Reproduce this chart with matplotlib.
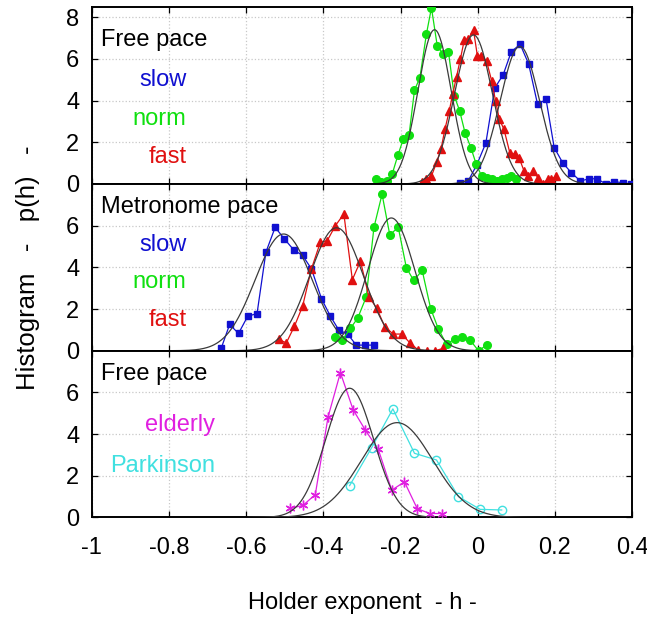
import numpy as np
import matplotlib
matplotlib.use('Agg')
import matplotlib.pyplot as plt

plt.rcParams['font.family'] = ['Liberation Sans', 'DejaVu Sans']

# Free pace (young): slow / norm / fast
fp_slow_h = [-0.047, -0.025, -0.003, 0.021, 0.044, 0.066, 0.087, 0.110, 0.132, 0.155, 0.177,
             0.198, 0.220, 0.242, 0.266, 0.288, 0.309, 0.332, 0.354, 0.376, 0.397]
fp_slow_p = [0.05, 0.14, 0.9, 1.97, 4.6, 5.25, 6.35, 6.7, 5.75, 3.82, 4.06,
             1.75, 1.02, 0.55, 0.14, 0.25, 0.25, 0.0, 0.11, 0.06, 0.0]
fp_norm_h = [-0.265, -0.250, -0.236, -0.222, -0.207, -0.193, -0.178, -0.164, -0.150, -0.133,
             -0.120, -0.105, -0.090, -0.076, -0.061, -0.047, -0.033, -0.018, -0.004, 0.010,
             0.024, 0.038, 0.051, 0.064, 0.075, 0.086, 0.099]
fp_norm_p = [0.25, 0.1, 0.14, 0.46, 1.38, 2.15, 2.35, 4.5, 5.1, 7.2,
             8.45, 6.63, 6.23, 6.35, 4.23, 3.51, 2.46, 1.75, 0.95, 0.38,
             0.3, 0.22, 0.14, 0.22, 0.3, 0.38, 0.25]
fp_fast_h = [-0.145, -0.133, -0.120, -0.106, -0.095, -0.085, -0.074, -0.065, -0.055, -0.045,
             -0.035, -0.025, -0.011, -0.001, 0.009, 0.023, 0.036, 0.046, 0.056, 0.068,
             0.083, 0.096, 0.107, 0.120, 0.131, 0.144, 0.156, 0.168, 0.181, 0.191, 0.203]
fp_fast_p = [0.1, 0.22, 0.38, 1.07, 1.7, 2.63, 3.5, 4.3, 5.15, 6.0,
             6.9, 6.95, 7.38, 6.15, 6.15, 5.88, 4.95, 4.0, 3.1, 2.62,
             1.5, 1.42, 1.26, 0.62, 0.38, 0.62, 0.3, 0.0, 0.22, 0.22, 0.38]

# Metronome pace: slow / norm / fast
mp_slow_h = [-0.665, -0.643, -0.620, -0.596, -0.572, -0.549, -0.525, -0.501, -0.477,
             -0.454, -0.431, -0.405, -0.382, -0.360, -0.337, -0.315, -0.293, -0.270]
mp_slow_p = [0.11, 1.26, 0.83, 1.66, 1.78, 4.73, 5.92, 5.36, 4.84,
             4.57, 3.93, 2.5, 1.66, 0.99, 0.80, 0.27, 0.27, 0.27]
mp_norm_h = [-0.371, -0.351, -0.330, -0.311, -0.289, -0.269, -0.248, -0.228, -0.206, -0.185,
             -0.166, -0.144, -0.122, -0.102, -0.081, -0.060, -0.040, -0.020, 0.002, 0.023]
mp_norm_p = [0.64, 0.51, 1.07, 1.57, 2.58, 5.92, 7.51, 5.56, 5.92, 3.98,
             3.37, 3.85, 2.02, 1.04, 0.31, 0.56, 0.67, 0.51, 0.0, 0.27]
mp_fast_h = [-0.516, -0.496, -0.475, -0.454, -0.431, -0.408, -0.390, -0.369, -0.347, -0.325,
             -0.304, -0.282, -0.262, -0.241, -0.219, -0.197, -0.176, -0.154, -0.132, -0.111, -0.090]
mp_fast_p = [0.54, 0.38, 1.18, 2.13, 3.93, 5.2, 5.28, 6.0, 6.56, 3.41,
             4.3, 2.58, 2.05, 1.15, 0.8, 0.8, 0.38, 0.03, 0.0, 0.0, 0.11]

# Free pace: elderly / Parkinson
el_h = [-0.486, -0.453, -0.421, -0.388, -0.356, -0.323, -0.291, -0.258, -0.223, -0.190,
        -0.157, -0.125, -0.092]
el_p = [0.44, 0.58, 1.1, 4.82, 6.95, 5.17, 4.18, 3.28, 1.31, 1.71, 0.43, 0.19, 0.19]
pk_h = [-0.332, -0.275, -0.220, -0.164, -0.107, -0.050, 0.006, 0.062]
pk_p = [1.53, 3.35, 5.21, 3.08, 2.76, 1.0, 0.39, 0.36]

# gaussian fits: (mean, sigma, peak height)
fits_top = [(0.109, 0.051, 6.6), (-0.112, 0.043, 7.4), (-0.011, 0.049, 7.15)]
fits_mid = [(-0.503, 0.074, 5.6), (-0.224, 0.061, 6.37), (-0.366, 0.070, 5.9)]
fits_bot = [(-0.332, 0.062, 6.2), (-0.209, 0.092, 4.55)]

x_ticks = [-1, -0.8, -0.6, -0.4, -0.2, 0, 0.2, 0.4]
x_ticklabels = ['-1', '-0.8', '-0.6', '-0.4', '-0.2', '0', '0.2', '0.4']

BLUE = '#1010d0'
GREEN = '#10e010'
RED = '#e01010'
MAGENTA = '#e020e0'
CYAN = '#40e0e0'
FITC = '#3a3a3a'
FS = 17


def draw_fit(ax, mu, sig, amp):
    xs = np.linspace(mu - 4.2 * sig, mu + 4.2 * sig, 200)
    ax.plot(xs, amp * np.exp(-0.5 * ((xs - mu) / sig) ** 2), color=FITC, lw=0.9, zorder=4)


fig = plt.figure(figsize=(6.47, 6.19), dpi=100)
gs = fig.add_gridspec(3, 1, height_ratios=[8.5, 8, 8], hspace=0,
                      left=0.142, right=0.977, top=0.989, bottom=0.164)
axes = [fig.add_subplot(gs[i]) for i in range(3)]

for i, ax in enumerate(axes):
    ax.set_xlim(-1, 0.4)
    ax.set_xticks(x_ticks)
    ax.grid(True, color='#c8c8c8', linestyle=':', linewidth=0.9)
    ax.tick_params(direction='in', length=4, width=0.9, top=True, right=True,
                   labelsize=17, pad=9)
    ax.tick_params(axis='x', pad=14)
    for s in ax.spines.values():
        s.set_linewidth(1.4)
    if i < 2:
        ax.tick_params(labelbottom=False)
    else:
        ax.set_xticklabels(x_ticklabels)

ax = axes[0]
ax.set_ylim(0, 8.5)
ax.set_yticks([0, 2, 4, 6, 8])
ax.plot(fp_slow_h, fp_slow_p, color=BLUE, lw=0.9, marker='s', ms=5, zorder=3)
ax.plot(fp_norm_h, fp_norm_p, color=GREEN, lw=0.9, marker='o', ms=5.5, zorder=3)
ax.plot(fp_fast_h, fp_fast_p, color=RED, lw=0.9, marker='^', ms=5.5, zorder=3)
for f in fits_top:
    draw_fit(ax, *f)
ax.text(0.017, 0.81, 'Free pace', transform=ax.transAxes, fontsize=FS, va='center')
ax.text(0.175, 0.587, 'slow', transform=ax.transAxes, fontsize=FS, va='center', ha='right', color=BLUE)
ax.text(0.175, 0.369, 'norm', transform=ax.transAxes, fontsize=FS, va='center', ha='right', color=GREEN)
ax.text(0.175, 0.155, 'fast', transform=ax.transAxes, fontsize=FS, va='center', ha='right', color=RED)

ax = axes[1]
ax.set_ylim(0, 8)
ax.set_yticks([0, 2, 4, 6])
ax.plot(mp_slow_h, mp_slow_p, color=BLUE, lw=0.9, marker='s', ms=5, zorder=3)
ax.plot(mp_norm_h, mp_norm_p, color=GREEN, lw=0.9, marker='o', ms=5.5, zorder=3)
ax.plot(mp_fast_h, mp_fast_p, color=RED, lw=0.9, marker='^', ms=5.5, zorder=3)
for f in fits_mid:
    draw_fit(ax, *f)
ax.text(0.017, 0.86, 'Metronome pace', transform=ax.transAxes, fontsize=FS, va='center')
ax.text(0.175, 0.634, 'slow', transform=ax.transAxes, fontsize=FS, va='center', ha='right', color=BLUE)
ax.text(0.175, 0.414, 'norm', transform=ax.transAxes, fontsize=FS, va='center', ha='right', color=GREEN)
ax.text(0.175, 0.184, 'fast', transform=ax.transAxes, fontsize=FS, va='center', ha='right', color=RED)

ax = axes[2]
ax.set_ylim(0, 8)
ax.set_yticks([0, 2, 4, 6])
ax.plot(el_h, el_p, color=MAGENTA, lw=0.9, marker=(6, 2, 0), ms=7, mew=1.0, zorder=3)
ax.plot(pk_h, pk_p, color=CYAN, lw=0.9, marker='o', ms=6, mfc='none', mew=1.0, zorder=3)
for f in fits_bot:
    draw_fit(ax, *f)
ax.text(0.017, 0.86, 'Free pace', transform=ax.transAxes, fontsize=FS, va='center')
ax.text(0.228, 0.557, 'elderly', transform=ax.transAxes, fontsize=FS, va='center', ha='right', color=MAGENTA)
ax.text(0.228, 0.308, 'Parkinson', transform=ax.transAxes, fontsize=FS, va='center', ha='right', color=CYAN)
ax.set_xlabel('Holder exponent  - h -', fontsize=17, labelpad=24)

fig.text(0.043, 0.568, 'Histogram   -   p(h)   -', rotation=90, fontsize=18.5,
         ha='center', va='center')

fig.savefig('out.png', dpi=100)
